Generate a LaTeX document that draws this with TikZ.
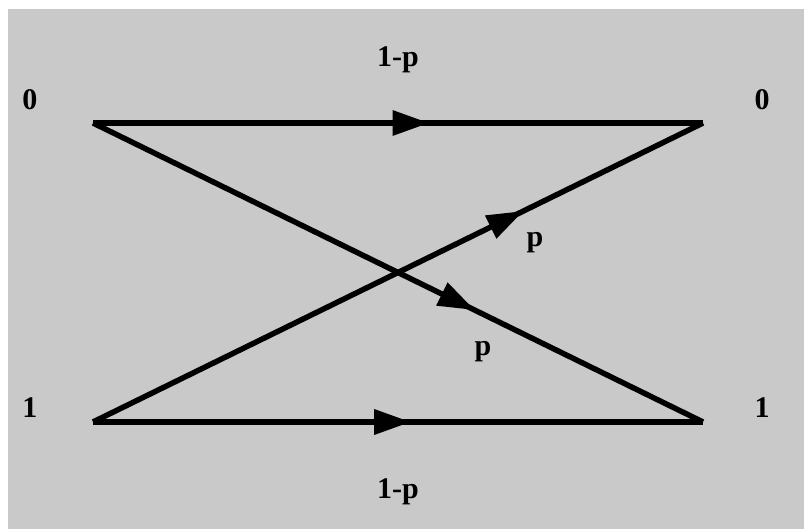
\documentclass[tikz,border=0pt]{standalone}
\usepackage{fontspec}
\setmainfont{Liberation Serif}
\usetikzlibrary{arrows.meta,decorations.markings}
\definecolor{bggray}{RGB}{201,201,201}
\tikzset{
  chan/.style={line width=5.5pt, line cap=butt},
  midarrow/.style={postaction={decorate, decoration={markings,
      mark=at position #1 with {\arrow[line width=0pt]{Triangle[length=36pt,width=26pt]}}}}},
  lbl/.style={font=\fontsize{30}{34}\selectfont\bfseries, inner sep=0pt}
}
\begin{document}
\begin{tikzpicture}[x=1pt,y=-1pt]
  \useasboundingbox (0,0) rectangle (804,529);
  \fill[white] (0,0) rectangle (804,529);
  \fill[bggray] (8,9) rectangle (804,529);
  \coordinate (a0) at (93,123);
  \coordinate (b0) at (703,123);
  \coordinate (a1) at (93,422);
  \coordinate (b1) at (703,422);
  \draw[chan, midarrow=0.55] (a0) -- (b0);
  \draw[chan, midarrow=0.52] (a1) -- (b1);
  \draw[chan, midarrow=0.625] (a0) -- (b1);
  \draw[chan, midarrow=0.705] (a1) -- (b0);
  \node[lbl] (l0) at (30,100) {0};
  \node[lbl] (r0) at (762,100) {0};
  \node[lbl] (l1) at (30,408) {1};
  \node[lbl] (r1) at (762,408) {1};
  \node[lbl] (t) at (398,60) {1-p};
  \node[lbl] (b) at (398,492) {1-p};
  \node[lbl] (pu) at (535,243) {p};
  \node[lbl] (pd) at (483,352) {p};
\end{tikzpicture}
\end{document}
